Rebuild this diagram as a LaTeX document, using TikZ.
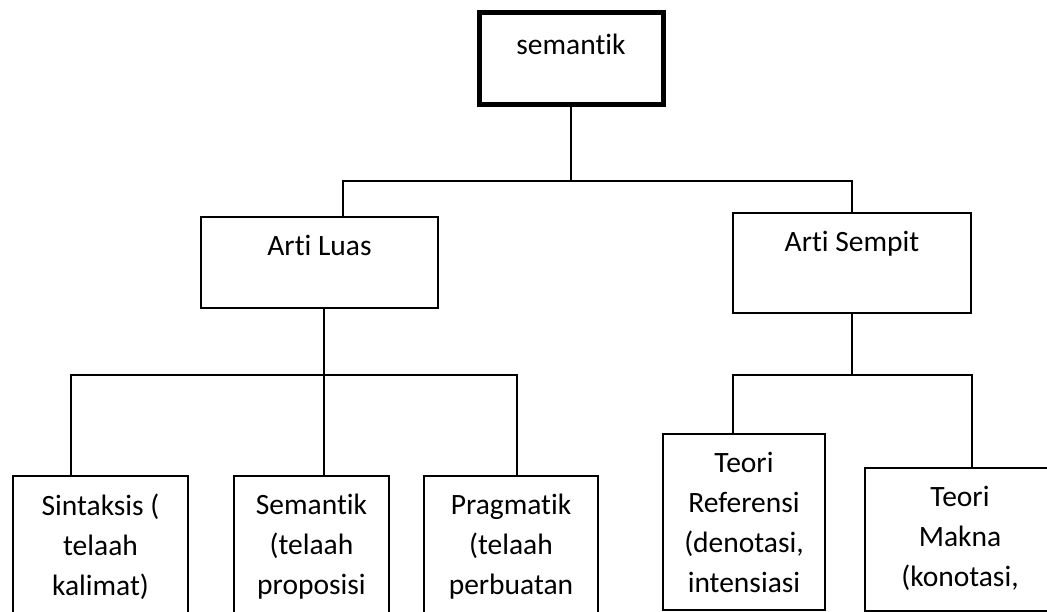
\documentclass[tikz,border=0pt]{standalone}
\usepackage{fontspec}
\setmainfont{Carlito}[Ligatures={NoCommon}]
\usepackage{tikz}
\usetikzlibrary{positioning}
\newcommand{\atas}{\rule{0pt}{20pt}}
\tikzstyle{kotak} = [rectangle, draw=black, inner sep=0pt, outer sep=0pt, line width=1.3pt]
\tikzstyle{teks} = [align=center, anchor=north, inner sep=0pt, font=\fontsize{29.5}{40}\selectfont]
\tikzstyle{garis} = [draw=black, line width=1.8pt]

\begin{document}
\begin{tikzpicture}[x=1pt, y=-1pt]
    \useasboundingbox (0,0) rectangle (1047,612);
    \clip (0,0) rectangle (1047,612);
    \fill[white] (0,0) rectangle (1047,612);

    % Root
    \node[kotak, line width=5pt, minimum width=184pt, minimum height=92.5pt] (sem) at (571, 58.75) {};
    \node[teks] (tsem) at ([yshift=-21pt]sem.north) {\atas semantik};

    % Second level
    \node[kotak, minimum width=237pt, minimum height=91pt] (luas) at (319.5, 262.5) {};
    \node[teks] (tluas) at ([yshift=-18pt]luas.north) {\atas Arti Luas};
    \node[kotak, minimum width=238pt, minimum height=100pt] (sempit) at (852, 263) {};
    \node[teks] (tsempit) at ([yshift=-18pt]sempit.north) {\atas Arti Sempit};

    % Third level (Arti Luas)
    \node[kotak, minimum width=175pt, minimum height=174pt] (sin) at (100.5, 563) {};
    \node[teks] (tsin) at ([yshift=-18pt]sin.north) {\atas Sintaksis (\\telaah\\kalimat)};
    \node[kotak, minimum width=155pt, minimum height=174pt] (sem2) at (311.5, 563) {};
    \node[teks] (tsem2) at ([yshift=-18pt]sem2.north) {\atas Semantik\\(telaah\\proposisi};
    \node[kotak, minimum width=174pt, minimum height=174pt] (prag) at (511, 563) {};
    \node[teks] (tprag) at ([yshift=-18pt]prag.north) {\atas Pragmatik\\(telaah\\perbuatan};

    % Third level (Arti Sempit)
    \node[kotak, minimum width=162pt, minimum height=176pt] (ref) at (744, 522) {};
    \node[teks] (tref) at ([yshift=-18pt]ref.north) {\atas Teori\\Referensi\\(denotasi,\\intensiasi};
    \node[kotak, minimum width=190pt, minimum height=143pt] (makna) at (960, 539.5) {};
    \node[teks] (tmakna) at ([yshift=-18pt]makna.north) {\atas Teori\\Makna\\(konotasi,};

    % Junctions
    \coordinate (cA) at (571, 181);
    \coordinate (cB) at (324, 375);
    \coordinate (cC) at (852, 375);

    % Connectors
    \draw[garis] (sem.south) -- (cA);
    \draw[garis] ([xshift=23.5pt]luas.north) |- (cA) -| (sempit.north);
    \draw[garis] (luas.south -| cB) -- (cB);
    \draw[garis] ([xshift=-29.5pt]sin.north) |- (cB) -| ([xshift=6pt]prag.north);
    \draw[garis] (cB) -- (sem2.north -| cB);
    \draw[garis] (sempit.south) -- (cC);
    \draw[garis] ([xshift=-11pt]ref.north) |- (cC) -| ([xshift=12pt]makna.north);
\end{tikzpicture}
\end{document}
